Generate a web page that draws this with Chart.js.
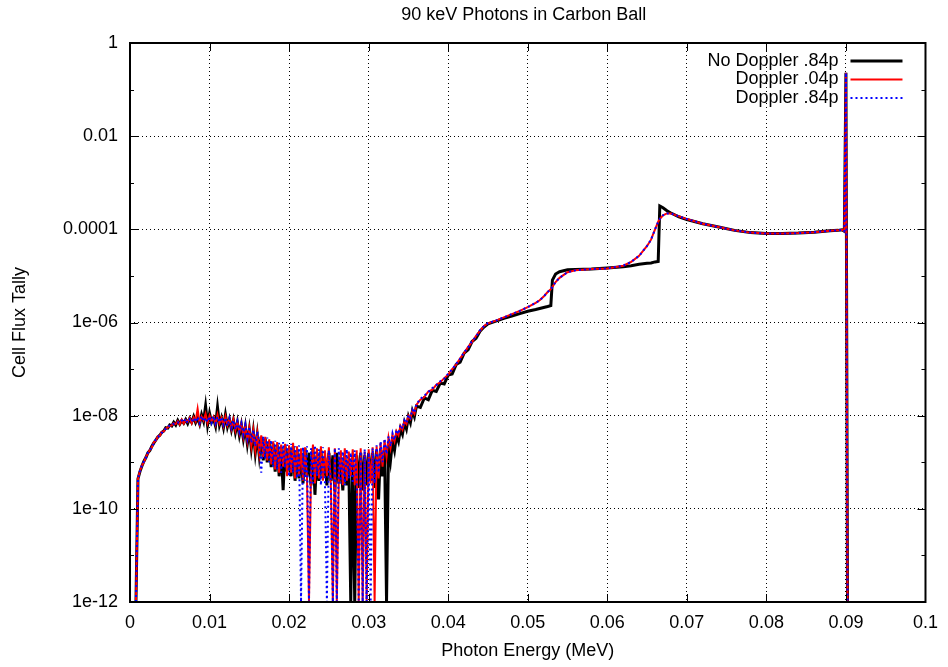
<!DOCTYPE html>
<html>
<head>
<meta charset="utf-8">
<title>90 keV Photons in Carbon Ball</title>
<script src="https://cdn.jsdelivr.net/npm/chart.js@4.4.1/dist/chart.umd.min.js"></script>
<style>
  html, body { margin: 0; padding: 0; background: #fff; }
</style>
</head>
<body>
<canvas id="chart" width="948" height="667"></canvas>
<script>
// photon energy bins (MeV)
const energy = [
  0.00075,
  0.001, 0.00125, 0.0015, 0.00175, 0.002, 0.00225, 0.0025, 0.00275, 0.003, 0.00325,
  0.0035, 0.00375, 0.004, 0.00425, 0.0045, 0.00475, 0.005, 0.00525, 0.0055, 0.00575,
  0.006, 0.00625, 0.0065, 0.00675, 0.007, 0.00725, 0.0075, 0.00775, 0.008, 0.00825,
  0.0085, 0.00875, 0.009, 0.00925, 0.0095, 0.00975, 0.01, 0.01025, 0.0105, 0.01075,
  0.011, 0.01125, 0.0115, 0.01175, 0.012, 0.01225, 0.0125, 0.01275, 0.013, 0.01325,
  0.0135, 0.01375, 0.014, 0.01425, 0.0145, 0.01475, 0.015, 0.01525, 0.0155, 0.01575,
  0.016, 0.01625, 0.0165, 0.01675, 0.017, 0.01725, 0.0175, 0.01775, 0.018, 0.01825,
  0.0185, 0.01875, 0.019, 0.01925, 0.0195, 0.01975, 0.02, 0.02025, 0.0205, 0.02075,
  0.021, 0.02125, 0.0215, 0.02175, 0.022, 0.02225, 0.0225, 0.02275, 0.023, 0.02325,
  0.0235, 0.02375, 0.024, 0.02425, 0.0245, 0.02475, 0.025, 0.02525, 0.0255, 0.02575,
  0.026, 0.02625, 0.0265, 0.02675, 0.027, 0.02725, 0.0275, 0.02775, 0.028, 0.02825,
  0.0285, 0.02875, 0.029, 0.02925, 0.0295, 0.02975, 0.03, 0.03025, 0.0305, 0.03075,
  0.031, 0.03125, 0.0315, 0.03175, 0.032, 0.03225, 0.0325, 0.03275, 0.033, 0.03325,
  0.0335, 0.03375, 0.034, 0.03425, 0.0345, 0.03475, 0.035, 0.03525, 0.0355, 0.03575,
  0.036,
  0.0365, 0.037, 0.0375, 0.038, 0.0385, 0.039, 0.0395, 0.04, 0.0405, 0.041,
  0.0415, 0.042, 0.0425, 0.043, 0.0435, 0.044, 0.0445, 0.045,
  0.046, 0.047, 0.048, 0.049, 0.05, 0.051, 0.0515, 0.052, 0.0525, 0.0529,
  0.0531, 0.0535, 0.054, 0.055, 0.056, 0.058, 0.06, 0.062, 0.063, 0.064,
  0.065, 0.0655, 0.066, 0.0664, 0.0666, 0.067, 0.0675, 0.068, 0.069, 0.07,
  0.072, 0.074, 0.076, 0.078, 0.08, 0.082, 0.084, 0.086, 0.088, 0.089,
  0.0895, 0.0898, 0.09, 0.0902
];

// cell flux tally, no Doppler broadening, .84p library
const noDoppler84 = [
  0,
  4.4e-10, 6.3e-10, 8.3e-10, 1.05e-9, 1.26e-9, 1.6e-9, 1.8e-9, 2.2e-9, 2.6e-9, 3.0e-9,
  3.5e-9, 3.8e-9, 4.4e-9, 4.7e-9, 5.5e-9, 5.4e-9, 6.3e-9, 6.0e-9, 7.2e-9, 6.3e-9,
  7.9e-9, 6.6e-9, 7.9e-9, 6.9e-9, 8.3e-9, 6.8e-9, 8.7e-9, 7.2e-9, 9.5e-9, 7.1e-9,
  8.9e-9, 6.6e-9, 1.05e-8, 7.6e-9, 1.6e-8, 6.3e-9, 1.12e-8, 7.2e-9, 8.7e-9, 6.0e-9,
  1.5e-8, 6.3e-9, 8.9e-9, 5.6e-9, 1.05e-8, 5.8e-9, 8.3e-9, 5.0e-9, 7.9e-9, 4.4e-9,
  7.2e-9, 3.8e-9, 6.3e-9, 3.2e-9, 5.8e-9, 2.5e-9, 5.0e-9, 2.0e-9, 4.5e-9, 1.6e-9,
  3.8e-9, 1.4e-9, 3.5e-9, 1.1e-9, 3.2e-9, 1.0e-9, 2.8e-9, 7.9e-10, 2.5e-9, 6.3e-10,
  2.4e-9, 5.0e-10, 2.0e-9, 2.5e-10, 2.2e-9, 6.3e-10, 2.0e-9, 5.0e-10, 2.2e-9, 4.0e-10,
  1.8e-9, 4.5e-10, 1.6e-9, 3.5e-10, 2.0e-9, 5.0e-10, 1.6e-9, 3.2e-10, 2.0e-9, 2.0e-10,
  1.4e-9, 4.0e-10, 1.8e-9, 5.0e-10, 1.26e-9, 3.2e-10, 1.6e-9, 4.0e-10, 1.4e-9, 2.5e-10,
  1.6e-9, 3.5e-10, 1.26e-9, 2.5e-10, 1.4e-9, 3.2e-10, 1.1e-9, 0, 1.26e-9, 0,
  1.4e-9, 2.8e-10, 1.6e-9, 2.5e-10, 1.4e-9, 3.2e-10, 1.6e-9, 4.0e-10, 1.6e-9, 2.8e-10,
  1.8e-9, 1.6e-10, 2.0e-9, 5.0e-10, 2.0e-9, 0, 2.4e-9, 1.1e-9, 2.8e-9, 1.8e-9,
  3.8e-9, 2.8e-9, 5.2e-9, 4.0e-9, 7.1e-9, 5.2e-9, 9.5e-9, 7.1e-9, 1.26e-8, 9.5e-9,
  1.6e-8,
  1.5e-8, 2.4e-8, 2.2e-8, 3.5e-8, 3.3e-8, 5.0e-8, 4.8e-8, 7.4e-8, 7.8e-8, 1.25e-7,
  1.4e-7, 2.2e-7, 2.6e-7, 3.9e-7, 4.6e-7, 6.5e-7, 8.0e-7, 9.4e-7,
  1.07e-6, 1.23e-6, 1.38e-6, 1.55e-6, 1.74e-6, 1.9e-6, 2.0e-6, 2.1e-6, 2.2e-6, 2.3e-6,
  8.1e-6, 1.1e-5, 1.23e-5, 1.35e-5, 1.38e-5, 1.41e-5, 1.48e-5, 1.58e-5, 1.66e-5, 1.78e-5,
  1.86e-5, 1.9e-5, 2.0e-5, 2.04e-5, 3.16e-4, 2.9e-4, 2.5e-4, 2.24e-4, 1.86e-4, 1.62e-4,
  1.32e-4, 1.12e-4, 9.5e-5, 8.5e-5, 8.1e-5, 8.1e-5, 8.3e-5, 8.7e-5, 9.3e-5, 9.5e-5,
  9.8e-5, 9.1e-5, 0.23, 0
];

// Doppler broadening, .04p library
const doppler04 = [
  0,
  4.4e-10, 6.5e-10, 8.5e-10, 1.0e-9, 1.3e-9, 1.55e-9, 1.85e-9, 2.1e-9, 2.7e-9, 2.9e-9,
  3.6e-9, 3.7e-9, 4.5e-9, 4.6e-9, 5.3e-9, 5.6e-9, 6.0e-9, 6.2e-9, 6.9e-9, 6.6e-9,
  7.6e-9, 6.5e-9, 8.2e-9, 6.8e-9, 8.0e-9, 7.3e-9, 8.9e-9, 6.9e-9, 9.2e-9, 7.5e-9,
  1.4e-8, 6.8e-9, 9.6e-9, 7.9e-9, 1.1e-8, 6.9e-9, 1.0e-8, 7.6e-9, 9.4e-9, 6.5e-9,
  1.05e-8, 6.8e-9, 9.0e-9, 6.0e-9, 9.6e-9, 6.2e-9, 8.6e-9, 5.2e-9, 8.2e-9, 4.8e-9,
  7.4e-9, 4.2e-9, 6.8e-9, 3.5e-9, 6.1e-9, 2.8e-9, 5.4e-9, 2.2e-9, 4.8e-9, 1.8e-9,
  4.2e-9, 1.5e-9, 3.8e-9, 1.3e-9, 3.5e-9, 1.1e-9, 3.1e-9, 9.0e-10, 2.8e-9, 7.0e-10,
  2.7e-9, 6.0e-10, 2.4e-9, 8.0e-10, 2.5e-9, 5.0e-10, 2.3e-9, 6.0e-10, 2.6e-9, 4.5e-10,
  2.2e-9, 5.0e-10, 2.0e-9, 4.0e-10, 2.1e-9, 4.5e-10, 0, 5.0e-10, 2.4e-9, 3.5e-10,
  2.0e-9, 4.5e-10, 2.2e-9, 4.0e-10, 1.8e-9, 5.0e-10, 2.1e-9, 3.2e-10, 0, 2.0e-9,
  0, 4.5e-10, 1.8e-9, 3.2e-10, 2.0e-9, 4.0e-10, 1.7e-9, 5.0e-10, 1.9e-9, 3.2e-10,
  1.8e-9, 0, 2.0e-9, 0, 1.7e-9, 0, 1.9e-9, 3.5e-10, 2.1e-9, 0,
  2.2e-9, 4.5e-10, 2.6e-9, 8.0e-10, 3.0e-9, 1.3e-9, 3.4e-9, 2.0e-9, 3.8e-9, 2.8e-9,
  4.6e-9, 3.8e-9, 6.0e-9, 5.0e-9, 7.6e-9, 6.6e-9, 1.0e-8, 8.6e-9, 1.3e-8, 1.1e-8,
  1.7e-8,
  2.2e-8, 2.5e-8, 3.3e-8, 3.6e-8, 4.6e-8, 5.2e-8, 6.4e-8, 7.6e-8, 1.0e-7, 1.25e-7,
  1.7e-7, 2.2e-7, 3.0e-7, 3.8e-7, 5.2e-7, 6.6e-7, 8.4e-7, 9.6e-7,
  1.1e-6, 1.29e-6, 1.51e-6, 1.78e-6, 2.14e-6, 2.63e-6, 3.0e-6, 3.6e-6, 4.5e-6, 5.2e-6,
  5.8e-6, 7.4e-6, 9.1e-6, 1.2e-5, 1.32e-5, 1.41e-5, 1.45e-5, 1.66e-5, 2.0e-5, 2.7e-5,
  4.4e-5, 6.0e-5, 1.0e-4, 1.45e-4, 1.66e-4, 2.0e-4, 2.2e-4, 2.2e-4, 1.9e-4, 1.66e-4,
  1.32e-4, 1.12e-4, 9.5e-5, 8.5e-5, 8.1e-5, 8.1e-5, 8.3e-5, 8.7e-5, 9.3e-5, 9.5e-5,
  9.8e-5, 9.1e-5, 0.23, 0
];

// Doppler broadening, .84p library
const doppler84 = [
  0,
  4.4e-10, 6.4e-10, 8.6e-10, 1.05e-9, 1.25e-9, 1.6e-9, 1.8e-9, 2.2e-9, 2.5e-9, 3.1e-9,
  3.4e-9, 3.9e-9, 4.3e-9, 4.9e-9, 5.2e-9, 5.8e-9, 6.1e-9, 6.6e-9, 6.7e-9, 7.0e-9,
  7.2e-9, 7.0e-9, 7.9e-9, 7.2e-9, 8.6e-9, 7.0e-9, 8.4e-9, 7.4e-9, 9.0e-9, 7.3e-9,
  9.4e-9, 7.0e-9, 9.9e-9, 7.5e-9, 9.0e-9, 7.3e-9, 9.7e-9, 7.0e-9, 9.8e-9, 6.8e-9,
  9.5e-9, 7.2e-9, 9.3e-9, 6.4e-9, 9.0e-9, 6.0e-9, 8.8e-9, 5.5e-9, 8.0e-9, 5.0e-9,
  7.5e-9, 4.5e-9, 6.8e-9, 3.9e-9, 6.4e-9, 3.2e-9, 5.8e-9, 2.6e-9, 5.0e-9, 2.2e-9,
  4.6e-9, 2.8e-9, 6.0e-10, 3.6e-9, 1.2e-9, 3.4e-9, 1.0e-9, 3.0e-9, 8.0e-10, 2.9e-9,
  7.0e-10, 2.6e-9, 6.0e-10, 2.7e-9, 7.5e-10, 2.4e-9, 5.0e-10, 2.5e-9, 6.0e-10, 2.2e-9,
  4.5e-10, 2.3e-9, 0, 2.1e-9, 4.0e-10, 2.2e-9, 0, 2.0e-9, 3.5e-10, 2.3e-9,
  5.0e-10, 1.9e-9, 3.2e-10, 2.1e-9, 4.5e-10, 0, 1.8e-9, 4.0e-10, 0, 2.0e-9,
  0, 2.0e-9, 3.5e-10, 1.7e-9, 3.2e-10, 1.9e-9, 4.5e-10, 1.6e-9, 3.5e-10, 1.8e-9,
  4.0e-10, 0, 1.7e-9, 0, 1.9e-9, 0, 1.6e-9, 0, 2.0e-9, 3.5e-10,
  2.3e-9, 6.0e-10, 2.8e-9, 1.0e-9, 3.2e-9, 1.5e-9, 3.6e-9, 2.2e-9, 4.2e-9, 3.0e-9,
  5.0e-9, 4.0e-9, 6.4e-9, 5.3e-9, 8.0e-9, 6.9e-9, 1.05e-8, 9.0e-9, 1.35e-8, 1.15e-8,
  1.75e-8,
  2.3e-8, 2.7e-8, 3.2e-8, 3.9e-8, 4.5e-8, 5.5e-8, 6.2e-8, 8.0e-8, 9.8e-8, 1.3e-7,
  1.65e-7, 2.3e-7, 2.9e-7, 4.0e-7, 5.0e-7, 6.8e-7, 8.3e-7, 9.7e-7,
  1.1e-6, 1.29e-6, 1.51e-6, 1.78e-6, 2.14e-6, 2.63e-6, 3.0e-6, 3.6e-6, 4.5e-6, 5.2e-6,
  5.8e-6, 7.4e-6, 9.1e-6, 1.2e-5, 1.32e-5, 1.41e-5, 1.45e-5, 1.66e-5, 2.0e-5, 2.7e-5,
  4.4e-5, 6.0e-5, 1.0e-4, 1.45e-4, 1.66e-4, 2.0e-4, 2.2e-4, 2.2e-4, 1.9e-4, 1.66e-4,
  1.32e-4, 1.12e-4, 9.5e-5, 8.5e-5, 8.1e-5, 8.1e-5, 8.3e-5, 8.7e-5, 9.3e-5, 9.5e-5,
  9.8e-5, 9.1e-5, 0.23, 0
];

const xTicks = [0, 0.01, 0.02, 0.03, 0.04, 0.05, 0.06, 0.07, 0.08, 0.09, 0.1];
const xTickLabels = ["0", "0.01", "0.02", "0.03", "0.04", "0.05", "0.06", "0.07", "0.08", "0.09", "0.1"];
const yTicks = [1e-12, 1e-10, 1e-8, 1e-6, 1e-4, 1e-2, 1];
const yTickLabels = ["1e-12", "1e-10", "1e-08", "1e-06", "0.0001", "0.01", "1"];
const yMinorTicks = [1e-11, 1e-9, 1e-7, 1e-5, 1e-3, 1e-1];
const yMin = 1e-12;
const yMax = 1;

const chartTitle = "90 keV Photons in Carbon Ball";
const FONT = "'Liberation Sans', Arial, Helvetica, sans-serif";

Chart.defaults.font.family = FONT;
Chart.defaults.font.size = 18;
Chart.defaults.color = "#000";

// log axis can't show an empty bin, so zero tallies sit on the floor
function toPoints(values) {
  return energy.map((e, i) => ({ x: e, y: values[i] > 0 ? values[i] : yMin }));
}

// gnuplot style frame: border, inward ticks, title and key
const framePlugin = {
  id: "frame",
  afterDatasetsDraw(chart) {
    const { ctx, chartArea: a, scales } = chart;
    ctx.save();
    ctx.strokeStyle = "#000";
    ctx.lineWidth = 1;
    ctx.setLineDash([]);
    ctx.beginPath();
    xTicks.forEach((v) => {
      const px = Math.round(scales.x.getPixelForValue(v)) + 0.5;
      ctx.moveTo(px, a.bottom);
      ctx.lineTo(px, a.bottom - 8);
      ctx.moveTo(px, a.top);
      ctx.lineTo(px, a.top + 8);
    });
    yTicks.forEach((v) => {
      const py = Math.round(scales.y.getPixelForValue(v)) + 0.5;
      ctx.moveTo(a.left, py);
      ctx.lineTo(a.left + 8, py);
      ctx.moveTo(a.right, py);
      ctx.lineTo(a.right - 8, py);
    });
    yMinorTicks.forEach((v) => {
      const py = Math.round(scales.y.getPixelForValue(v)) + 0.5;
      ctx.moveTo(a.left, py);
      ctx.lineTo(a.left + 4, py);
      ctx.moveTo(a.right, py);
      ctx.lineTo(a.right - 4, py);
    });
    ctx.stroke();

    ctx.lineWidth = 2;
    ctx.strokeRect(a.left, a.top, a.right - a.left, a.bottom - a.top);

    // title
    ctx.fillStyle = "#000";
    ctx.font = "18px " + FONT;
    ctx.textAlign = "center";
    ctx.textBaseline = "middle";
    ctx.fillText(chartTitle, (a.left + a.right) / 2 - 4, 15);

    // key, top right: label then line sample
    ctx.textAlign = "right";
    chart.data.datasets.forEach((ds, i) => {
      const y = a.top + 18 + i * 18.5;
      ctx.fillStyle = "#000";
      ctx.fillText(ds.label, a.right - 87, y);
      ctx.beginPath();
      ctx.strokeStyle = ds.borderColor;
      ctx.lineWidth = ds.borderWidth;
      ctx.setLineDash(ds.borderDash || []);
      ctx.moveTo(a.right - 75, y);
      ctx.lineTo(a.right - 23, y);
      ctx.stroke();
    });
    ctx.restore();
  },
};

const ctx = document.getElementById("chart").getContext("2d");
new Chart(ctx, {
  type: "line",
  data: {
    datasets: [
      {
        label: "No Doppler .84p",
        data: toPoints(noDoppler84),
        borderColor: "#000000",
        borderWidth: 3,
        order: 3,
      },
      {
        label: "Doppler .04p",
        data: toPoints(doppler04),
        borderColor: "#ff0000",
        borderWidth: 2,
        order: 2,
      },
      {
        label: "Doppler .84p",
        data: toPoints(doppler84),
        borderColor: "#0000ff",
        borderWidth: 2,
        borderDash: [2, 3],
        order: 1,
      },
    ],
  },
  options: {
    responsive: false,
    animation: false,
    layout: { padding: { top: 43, right: 18, bottom: 0, left: 0 } },
    elements: {
      point: { radius: 0 },
      line: { tension: 0, fill: false },
    },
    plugins: {
      legend: { display: false },
      tooltip: { enabled: false },
      title: { display: false },
    },
    scales: {
      x: {
        type: "linear",
        min: 0,
        max: 0.1,
        afterBuildTicks: (scale) => {
          scale.ticks = xTicks.map((v) => ({ value: v }));
        },
        afterFit: (scale) => {
          scale.height = 65;
        },
        ticks: {
          autoSkip: false,
          maxRotation: 0,
          padding: 10,
          callback: (v) => xTickLabels[xTicks.indexOf(v)],
        },
        grid: { color: "#000", lineWidth: 1, drawTicks: false },
        border: { display: false, dash: [1, 3] },
        title: {
          display: true,
          text: "Photon Energy (MeV)",
          padding: { top: 0, bottom: 5 },
        },
      },
      y: {
        type: "logarithmic",
        min: yMin,
        max: yMax,
        afterBuildTicks: (scale) => {
          scale.ticks = yTicks.map((v) => ({ value: v }));
        },
        afterFit: (scale) => {
          scale.width = 130;
        },
        ticks: {
          autoSkip: false,
          padding: 12,
          callback: (v) => yTickLabels[yTicks.indexOf(v)],
        },
        grid: { color: "#000", lineWidth: 1, drawTicks: false },
        border: { display: false, dash: [1, 3] },
        title: {
          display: true,
          text: "Cell Flux Tally",
          padding: { top: 9, bottom: 0 },
        },
      },
    },
  },
  plugins: [framePlugin],
});
</script>
</body>
</html>
